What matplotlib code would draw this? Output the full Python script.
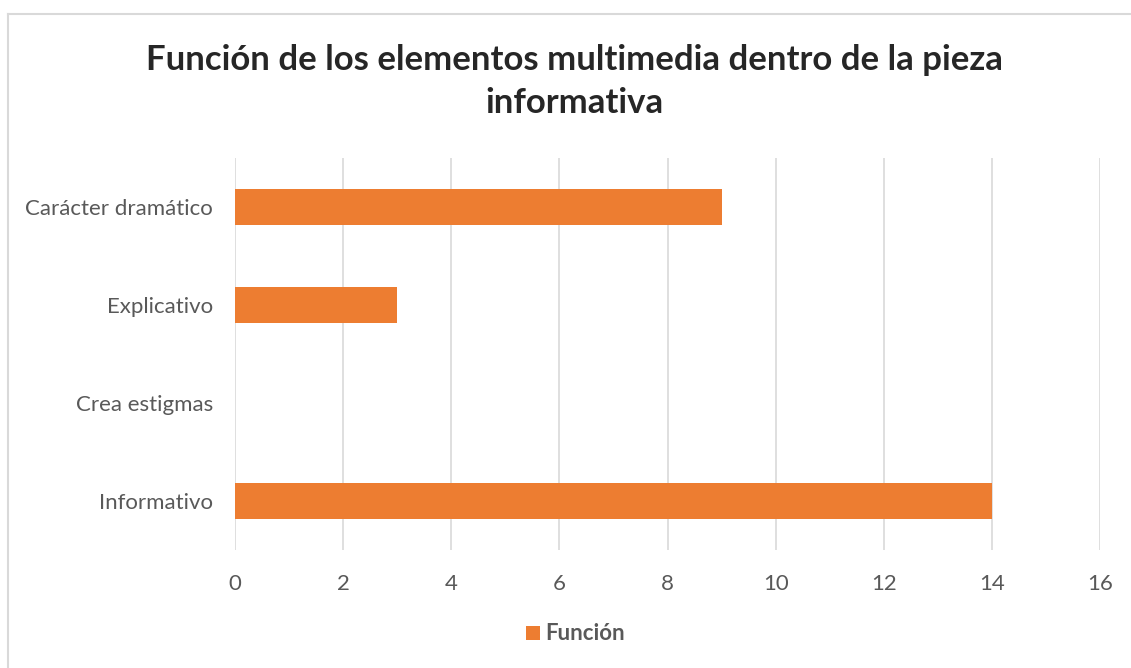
import matplotlib.pyplot as plt
from matplotlib.lines import Line2D

plt.rcParams['font.family'] = ['Lato', 'DejaVu Sans']

categories = ['Informativo', 'Crea estigmas', 'Explicativo', 'Carácter dramático']
values = [14, 0, 3, 9]
series_name = 'Función'
title = 'Función de los elementos multimedia dentro de la pieza\ninformativa'
xticks = [0, 2, 4, 6, 8, 10, 12, 14, 16]

orange = '#ED7D31'
grey_text = '#595959'

fig = plt.figure(figsize=(11.31, 6.68), dpi=100)
ax = fig.add_axes([0.2078, 0.1766, 0.7648, 0.5869])

ax.barh(range(len(categories)), values, height=0.36, color=orange, label=series_name, zorder=3)

ax.set_xlim(0, 16)
ax.set_ylim(-0.5, len(categories) - 0.5)
ax.set_xticks(xticks)
ax.set_yticks(range(len(categories)))
ax.set_yticklabels(categories)
ax.tick_params(axis='both', length=0, labelsize=16, colors=grey_text)
ax.tick_params(axis='x', pad=17)
ax.tick_params(axis='y', pad=16)
ax.grid(axis='x', color='#D9D9D9', linewidth=1.2, zorder=0)
for s in ax.spines.values():
    s.set_visible(False)

fig.text(0.5075, 0.878, title, ha='center', va='center', fontsize=25,
         fontweight='bold', color='#262626', linespacing=1.42)

leg = fig.legend(loc='center', bbox_to_anchor=(0.509, 0.051), frameon=False,
                 fontsize=16, handlelength=0.6, handleheight=0.6, handletextpad=0.25)
for t in leg.get_texts():
    t.set_color(grey_text)
    t.set_fontweight('bold')

# outer chart border (left and top edges visible)
fig.add_artist(Line2D([8 / 1131, 8 / 1131], [0, 1 - 14 / 668], transform=fig.transFigure,
                      color='#D9D9D9', linewidth=1.5))
fig.add_artist(Line2D([8 / 1131, 1], [1 - 14 / 668, 1 - 14 / 668], transform=fig.transFigure,
                      color='#D9D9D9', linewidth=1.5))

fig.savefig('out.png', dpi=100, facecolor='white')
